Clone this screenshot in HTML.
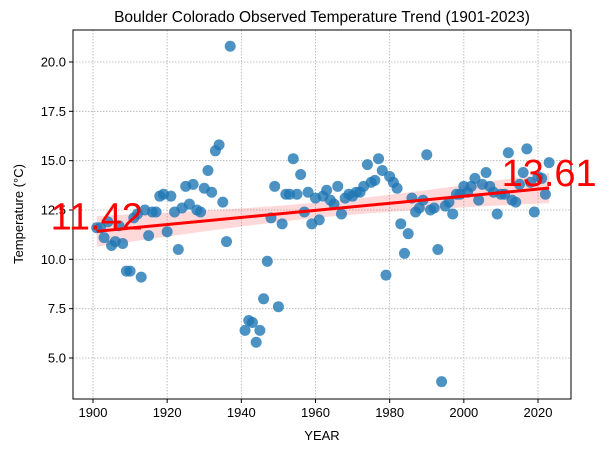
<!DOCTYPE html>
<html><head><meta charset="utf-8"><style>
body{margin:0;background:#fff;}
svg text{font-family:"Liberation Sans","DejaVu Sans",sans-serif;}
</style></head><body>
<svg id="chart" width="601" height="453" xmlns="http://www.w3.org/2000/svg">
<rect width="601" height="453" fill="#fff"/>
<g id="grid"></g><g id="band"></g><g id="pts"></g><g id="fit"></g><g id="axes"></g><g id="labels"></g>
</svg>
<script>
const years = [];
for (let y = 1901; y <= 1937; y++) years.push(y);
for (let y = 1941; y <= 2023; y++) years.push(y);
const temps = [11.6,11.6,11.1,11.9,10.7,10.9,11.7,10.8,9.4,9.4,12.1,12.3,9.1,12.5,11.2,12.4,12.4,13.2,13.3,11.4,13.2,12.4,10.5,12.6,13.7,12.8,13.8,12.5,12.4,13.6,14.5,13.4,15.5,15.8,12.9,10.9,20.8,
6.4,6.9,6.8,5.8,6.4,8.0,9.9,12.1,13.7,7.6,11.8,13.3,13.3,15.1,13.3,14.3,12.4,13.4,11.8,13.1,12.0,13.2,13.5,13.0,12.8,13.7,12.3,13.1,13.3,13.2,13.4,13.4,13.7,14.8,13.9,14.0,15.1,14.5,9.2,14.2,13.9,13.6,11.8,10.3,11.3,13.1,12.4,12.6,13.0,15.3,12.5,12.6,10.5,3.8,12.7,12.9,12.3,13.3,13.3,13.7,13.4,13.7,14.1,13.0,13.8,14.4,13.7,13.4,12.3,13.3,13.3,15.4,13.0,12.9,13.8,14.4,15.6,13.9,12.4,14.2,14.1,13.3,14.9];
const xTicks = [1900,1920,1940,1960,1980,2000,2020];
const yTicks = [5.0,7.5,10.0,12.5,15.0,17.5,20.0];

const L=73,R=571,T=30,B=399;
const X = v => 93 + (v-1900)*(445/120);
const Y = v => 62 + (20-v)*(296/15);
const NS="http://www.w3.org/2000/svg";
function mk(tag, attrs, parent){const e=document.createElementNS(NS,tag);for(const k in attrs)e.setAttribute(k,attrs[k]);parent.appendChild(e);return e;}
const grid=document.getElementById('grid'),axes=document.getElementById('axes'),pts=document.getElementById('pts'),fitG=document.getElementById('fit'),band=document.getElementById('band'),labels=document.getElementById('labels');

xTicks.forEach(t=>{
  const gl=mk('line',{x1:X(t),x2:X(t),y1:T,y2:B,stroke:'#b0b0b0','stroke-width':0.8,'stroke-dasharray':'1.5,1.5'},grid);
  
  
  const tk=mk('line',{x1:X(t),x2:X(t),y1:B,y2:B+4,stroke:'#000'},axes);
  
  
  const tx=mk('text',{x:X(t),y:B+18,'text-anchor':'middle','font-size':13},axes);tx.textContent=t;
  
  
});
yTicks.forEach(t=>{
  const gl=mk('line',{x1:L,x2:R,y1:Y(t),y2:Y(t),stroke:'#b0b0b0','stroke-width':0.8,'stroke-dasharray':'1.5,1.5'},grid);
  
  
  const tk=mk('line',{x1:L-4,x2:L,y1:Y(t),y2:Y(t),stroke:'#000'},axes);
  
  
  const tx=mk('text',{x:L-7,y:Y(t)+4.5,'text-anchor':'end','font-size':13},axes);tx.textContent=t.toFixed(1);
  
  
});
const frame=mk('rect',{x:L,y:T,width:R-L,height:B-T,fill:'none',stroke:'#000','stroke-width':1},axes);



const n=years.length;
const xm=years.reduce((a,b)=>a+b,0)/n, ym=temps.reduce((a,b)=>a+b,0)/n;
let sxx=0,sxy=0;for(let i=0;i<n;i++){sxx+=(years[i]-xm)**2;sxy+=(years[i]-xm)*(temps[i]-ym);}
const slope=sxy/sxx, icpt=ym-slope*xm;
let sse=0;for(let i=0;i<n;i++){sse+=(temps[i]-(icpt+slope*years[i]))**2;}
const s=Math.sqrt(sse/(n-2));
const x0=years[0],x1=years[n-1];
let up=[],lo=[];
for(let k=0;k<=40;k++){const xv=x0+(x1-x0)*k/40;const yv=icpt+slope*xv;const se=1.98*s*Math.sqrt(1/n+(xv-xm)**2/sxx);up.push(X(xv)+','+Y(yv+se));lo.unshift(X(xv)+','+Y(yv-se));}
const poly=mk('polygon',{points:up.concat(lo).join(' '),fill:'#ff0000','fill-opacity':0.15},band);



years.forEach((yr,i)=>{
  const c=mk('circle',{cx:X(yr),cy:Y(temps[i]),r:5.5,fill:'#1f77b4','fill-opacity':0.8},pts);
  
  
});
const f0=icpt+slope*x0,f1=icpt+slope*x1;
const ln=mk('line',{x1:X(x0),y1:Y(f0),x2:X(x1),y2:Y(f1),stroke:'#ff0000','stroke-width':3},fitG);


const lt=mk('text',{x:X(x0),y:Y(f0)-2,'text-anchor':'middle','font-size':38,fill:'#ff0000'},labels);lt.textContent=f0.toFixed(2);


const rt=mk('text',{x:X(x1),y:Y(f1)-2,'text-anchor':'middle','font-size':38,fill:'#ff0000'},labels);rt.textContent=f1.toFixed(2);


</script>
<svg style="position:absolute;left:0;top:0" width="601" height="453" xmlns="http://www.w3.org/2000/svg">
<text x="322" y="22" text-anchor="middle" font-size="15.5" font-family="Liberation Sans, sans-serif">Boulder Colorado Observed Temperature Trend (1901-2023)</text>
<text x="322" y="440" text-anchor="middle" font-size="13" font-family="Liberation Sans, sans-serif">YEAR</text>
<text x="0" y="0" transform="translate(23,214) rotate(-90)" text-anchor="middle" font-size="13" font-family="Liberation Sans, sans-serif">Temperature (°C)</text>
</svg>
</body></html>
